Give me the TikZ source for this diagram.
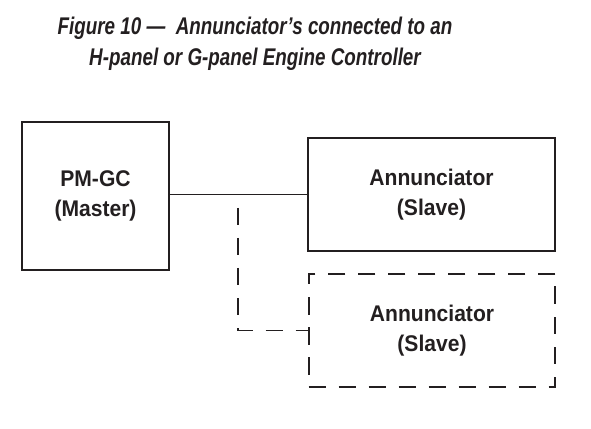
\documentclass[tikz,border=0pt]{standalone}
\usepackage{fontspec}
\usepackage{xcolor}
\usepackage{tikz}
\usetikzlibrary{positioning, calc}

\newfontfamily\titlefont[FakeStretch=0.78, Ligatures=TeX]{Liberation Sans}
\newfontfamily\boxfont[FakeStretch=0.93, Ligatures=TeX]{Liberation Sans}
\definecolor{ink}{HTML}{231F20}

\begin{document}
\begin{tikzpicture}[
    x=0.75pt, y=0.75pt,
    unit/.style={draw=ink, line width=1.4pt, align=center, text=ink, inner sep=0pt,
                 font=\boxfont\bfseries\fontsize{17}{23}\selectfont},
    optunit/.style={unit, dash pattern=on 13pt off 9.5pt},
    link/.style={draw=ink, line width=1.4pt},
    optlink/.style={link, dash pattern=on 13pt off 9.5pt},
]
\useasboundingbox (0,0) rectangle (591,428);

% --- Title ---
\node[align=center, text=ink, font=\titlefont\bfseries\itshape\fontsize{18.1}{23.25}\selectfont]
    (title) at (255, 384) {Figure 10 ---\ \ Annunciator’s connected to an\\H-panel or G-panel Engine Controller};

% --- Nodes: master on the left, two slaves stacked on the right ---
\node[unit, minimum width=110.5pt, minimum height=110.5pt] (master) at (95.5, 232) {PM-GC\\(Master)};
\node[unit, minimum width=185.5pt, minimum height=85pt] (slave) at (431.5, 233.5) {Annunciator\\(Slave)};
\node[optunit, minimum width=185pt, minimum height=85pt] (optslave) at (432, 97.5) {Annunciator\\(Slave)};

% tap point of the optional link
\coordinate (tap) at (238, 220);

% ===================== EDGES =====================

% Master -> Slave (solid)
\draw[link] (slave.west) -- (slave.west -| master.east);

% Tap -> optional Slave (dashed)
\draw[optlink] (tap) |- (optslave.west);

\end{tikzpicture}
\end{document}
